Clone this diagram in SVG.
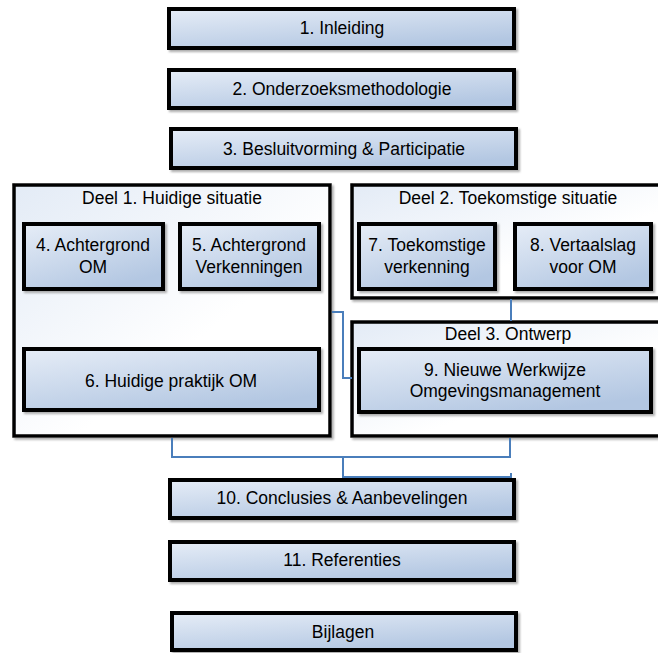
<svg xmlns="http://www.w3.org/2000/svg" width="658" height="653" viewBox="0 0 658 653">
  <defs>
    <linearGradient id="boxFill" x1="0" y1="0" x2="0.6" y2="1">
      <stop offset="0" stop-color="#e6edf7"/>
      <stop offset="1" stop-color="#b3c7e2"/>
    </linearGradient>
    <linearGradient id="groupFill" x1="0" y1="0" x2="1" y2="1">
      <stop offset="0" stop-color="#e3ebf6"/>
      <stop offset="0.6" stop-color="#ffffff"/>
    </linearGradient>
    <filter id="shadow" x="-5%" y="-10%" width="115%" height="130%">
      <feDropShadow dx="2" dy="2" stdDeviation="1" flood-color="#8a8a8a" flood-opacity="0.7"/>
    </filter>
  </defs>
  <style>
    .box { fill: url(#boxFill); stroke: #000; stroke-width: 4; filter: url(#shadow); }
    .group { fill: url(#groupFill); stroke: #000; stroke-width: 3.5; filter: url(#shadow); }
    .lbl { font-family: "Liberation Sans", Arial, sans-serif; font-size: 17.5px; fill: #000; text-anchor: middle; }
    .conn { fill: none; stroke: #4a7ebb; stroke-width: 2; }
  </style>

  <rect width="658" height="653" fill="#fff"/>

  <g id="ch1">
    <rect class="box" x="169" y="9" width="345" height="39"/>
    <text class="lbl" x="342" y="34">1. Inleiding</text>
  </g>
  <g id="ch2">
    <rect class="box" x="169" y="70" width="345" height="38"/>
    <text class="lbl" x="342" y="95">2. Onderzoeksmethodologie</text>
  </g>
  <g id="ch3">
    <rect class="box" x="171" y="129" width="345" height="39"/>
    <text class="lbl" x="344" y="155">3. Besluitvorming &amp; Participatie</text>
  </g>

  <g id="deel1">
    <rect class="group" x="14" y="185" width="316" height="251"/>
    <text class="lbl" x="172" y="204">Deel 1. Huidige situatie</text>
  </g>
  <g id="deel2">
    <rect class="group" x="352" y="185" width="320" height="113"/>
    <text class="lbl" x="508" y="204">Deel 2. Toekomstige situatie</text>
  </g>
  <g id="deel3">
    <rect class="group" x="352" y="322" width="320" height="114"/>
    <text class="lbl" x="508" y="340">Deel 3. Ontwerp</text>
  </g>

  <g id="ch4">
    <rect class="box" x="24" y="224" width="139" height="65"/>
    <text class="lbl" x="93" y="251">4. Achtergrond</text>
    <text class="lbl" x="93" y="273">OM</text>
  </g>
  <g id="ch5">
    <rect class="box" x="180" y="224" width="139" height="65"/>
    <text class="lbl" x="249" y="251">5. Achtergrond</text>
    <text class="lbl" x="249" y="273">Verkenningen</text>
  </g>
  <g id="ch6">
    <rect class="box" x="24" y="349" width="295" height="61"/>
    <text class="lbl" x="171" y="387">6. Huidige praktijk OM</text>
  </g>
  <g id="ch7">
    <rect class="box" x="359" y="224" width="136" height="65"/>
    <text class="lbl" x="427" y="251">7. Toekomstige</text>
    <text class="lbl" x="427" y="273">verkenning</text>
  </g>
  <g id="ch8">
    <rect class="box" x="515" y="224" width="136" height="65"/>
    <text class="lbl" x="583" y="251">8. Vertaalslag</text>
    <text class="lbl" x="583" y="273">voor OM</text>
  </g>
  <g id="ch9">
    <rect class="box" x="359" y="349" width="292" height="63"/>
    <text class="lbl" x="505" y="376">9. Nieuwe Werkwijze</text>
    <text class="lbl" x="505" y="397">Omgevingsmanagement</text>
  </g>

  <g id="ch10">
    <rect class="box" x="170" y="480" width="344" height="38"/>
    <text class="lbl" x="342" y="504">10. Conclusies &amp; Aanbevelingen</text>
  </g>
  <g id="ch11">
    <rect class="box" x="170" y="542" width="344" height="38"/>
    <text class="lbl" x="342" y="566">11. Referenties</text>
  </g>
  <g id="appendix">
    <rect class="box" x="172" y="613" width="344" height="37"/>
    <text class="lbl" x="343" y="638">Bijlagen</text>
  </g>

  <g id="connectors">
    <polyline class="conn" points="332,312 343,312 343,378 352,378"/>
    <line class="conn" x1="511" y1="299" x2="511" y2="321"/>
    <polyline class="conn" points="172,438 172,457 510,457 510,438"/>
    <polyline class="conn" points="343,457 343,478"/>
    <polyline class="conn" points="343,477 511,477 511,473"/>
  </g>
</svg>
